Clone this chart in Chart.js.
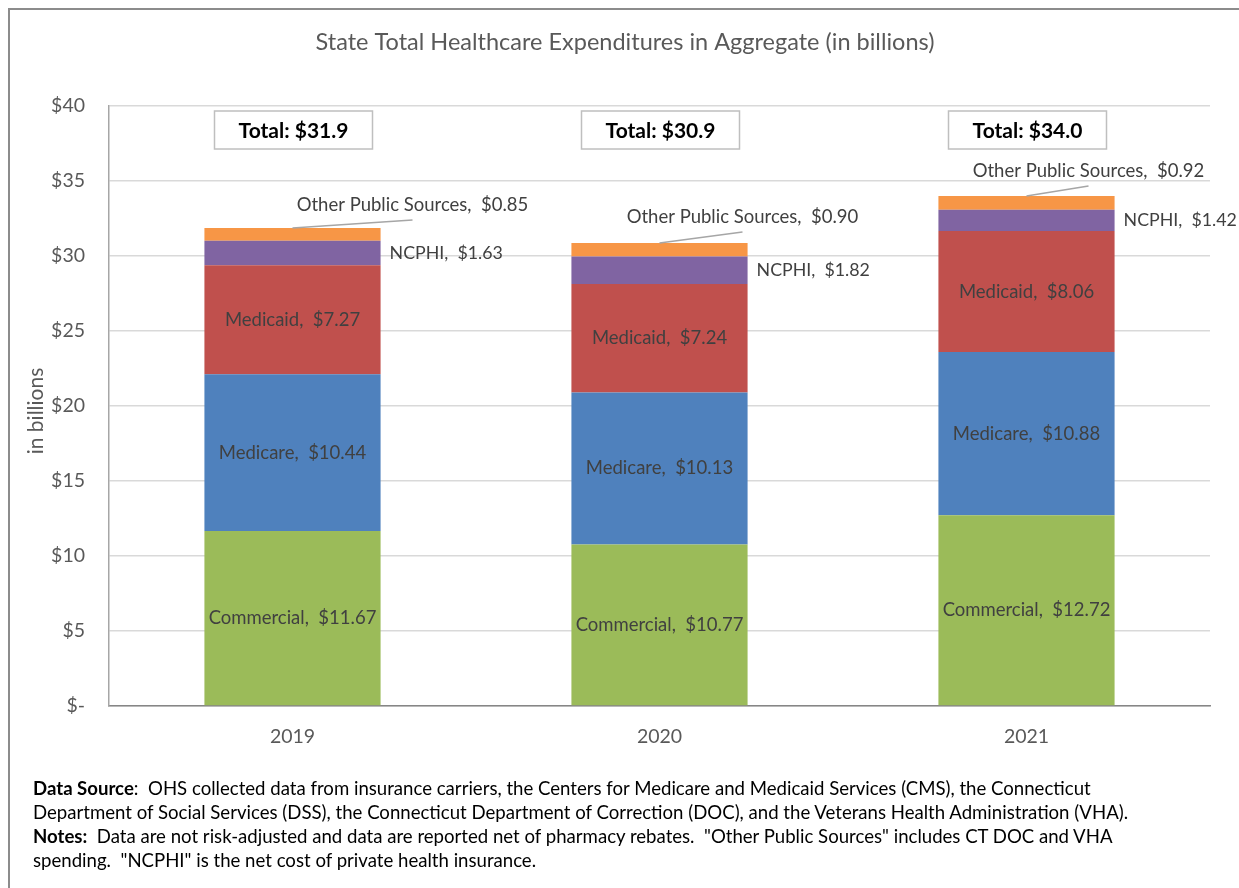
<!DOCTYPE html>
<html>
<head>
<meta charset="utf-8">
<script src="https://cdn.jsdelivr.net/npm/chart.js@4.4.1/dist/chart.umd.min.js"></script>
<style>
  html, body { margin: 0; padding: 0; background: #fff; overflow: hidden; }
  #frame { position: absolute; left: 8px; top: 8px; width: 1400px; height: 1000px; border: 2px solid #8c8c8c; box-sizing: border-box; }
  #chart { position: absolute; left: 0; top: 0; }
  #notes { position: absolute; left: 33px; top: 776px; font-family: Lato, sans-serif; font-size: 18.6px; line-height: 24px; color: #000; white-space: nowrap; }
</style>
</head>
<body>
<div id="frame"></div>
<canvas id="chart" width="1239" height="888"></canvas>
<div id="notes">
  <b>Data Source</b>:&nbsp; OHS collected data from insurance carriers, the Centers for Medicare and Medicaid Services (CMS), the Connecticut<br>
  Department of Social Services (DSS), the Connecticut Department of Correction (DOC), and the Veterans Health Administration (VHA).<br>
  <b>Notes:</b>&nbsp; Data are not risk-adjusted and data are reported net of pharmacy rebates.&nbsp; "Other Public Sources" includes CT DOC and VHA<br>
  spending.&nbsp; "NCPHI" is the net cost of private health insurance.
</div>
<script>
// Data (in billions)
const years = ["2019", "2020", "2021"];
const commercial = [11.67, 10.77, 12.72];
const medicare = [10.44, 10.13, 10.88];
const medicaid = [7.27, 7.24, 8.06];
const ncphi = [1.63, 1.82, 1.42];
const otherPublic = [0.85, 0.90, 0.92];
const yTicks = [0, 5, 10, 15, 20, 25, 30, 35, 40];

const FONT = "Lato, sans-serif";
const LABEL_GRAY = "#404040";

// leader-line label offsets for "Other Public Sources" (dx from bar center, dy above bar top)
const otherOffsets = [[120, 23], [83, 26], [62, 25]];

const labelPlugin = {
  id: "labels",
  afterDraw(chart) {
    const c = chart.ctx;
    const area = chart.chartArea;
    c.save();

    // title
    c.fillStyle = "#595959";
    c.font = "23.5px " + FONT;
    c.textAlign = "center";
    c.textBaseline = "middle";
    c.fillText("State Total Healthcare Expenditures in Aggregate (in billions)", 625, 42);

    // y axis title
    c.save();
    c.translate(36, 411);
    c.rotate(-Math.PI / 2);
    c.font = "21px " + FONT;
    c.fillText("in billions", 0, 0);
    c.restore();

    const metas = chart.data.datasets.map((d, i) => chart.getDatasetMeta(i));

    // inside labels
    c.font = "18.5px " + FONT;
    c.fillStyle = LABEL_GRAY;
    [0, 1, 2].forEach(di => {
      const ds = chart.data.datasets[di];
      metas[di].data.forEach((bar, j) => {
        const txt = ds.label + ",  $" + ds.data[j].toFixed(2);
        c.fillText(txt, bar.x, (bar.y + bar.base) / 2);
      });
    });

    // NCPHI labels right of bar
    c.font = "17.8px " + FONT;
    c.textAlign = "left";
    metas[3].data.forEach((bar, j) => {
      const txt = "NCPHI,  $" + ncphi[j].toFixed(2);
      c.fillText(txt, bar.x + bar.width / 2 + 9, (bar.y + bar.base) / 2);
    });

    // Other Public Sources labels with leader lines
    c.font = "18.5px " + FONT;
    c.textAlign = "center";
    metas[4].data.forEach((bar, j) => {
      const lx = bar.x + otherOffsets[j][0];
      const ly = bar.y - otherOffsets[j][1];
      c.fillStyle = LABEL_GRAY;
      c.fillText("Other Public Sources,  $" + otherPublic[j].toFixed(2), lx, ly);
      c.strokeStyle = "#a6a6a6";
      c.lineWidth = 1.5;
      c.beginPath();
      c.moveTo(bar.x, bar.y);
      c.lineTo(lx, ly + 15);
      c.stroke();
    });

    // Total boxes
    metas[0].data.forEach((bar, j) => {
      const total = commercial[j] + medicare[j] + medicaid[j] + ncphi[j] + otherPublic[j];
      const w = 158, h = 38;
      const bx = bar.x - w / 2 + 1, by = area.top + 5;
      c.fillStyle = "#fff";
      c.fillRect(bx, by, w, h);
      c.strokeStyle = "#bfbfbf";
      c.lineWidth = 1.5;
      c.strokeRect(bx, by, w, h);
      c.fillStyle = "#000";
      c.font = "bold 21px " + FONT;
      c.fillText("Total: $" + total.toFixed(1), bx + w / 2, by + h / 2 + 1);
    });

    c.restore();
  }
};

new Chart(document.getElementById("chart"), {
  type: "bar",
  data: {
    labels: years,
    datasets: [
      { label: "Commercial", data: commercial, backgroundColor: "#9BBB59" },
      { label: "Medicare", data: medicare, backgroundColor: "#4F81BD" },
      { label: "Medicaid", data: medicaid, backgroundColor: "#C0504D" },
      { label: "NCPHI", data: ncphi, backgroundColor: "#8064A2" },
      { label: "Other Public Sources", data: otherPublic, backgroundColor: "#F79646" },
    ],
  },
  options: {
    responsive: false,
    animation: false,
    devicePixelRatio: 1,
    layout: { padding: { left: 0, top: 106, right: 29, bottom: 132 } },
    datasets: { bar: { categoryPercentage: 1, barPercentage: 0.48 } },
    plugins: { legend: { display: false }, tooltip: { enabled: false } },
    scales: {
      x: {
        stacked: true,
        grid: { display: false, drawTicks: false },
        border: { color: "#868686", width: 1.5 },
        ticks: { color: "#595959", font: { family: FONT, size: 19.5 }, padding: 19 },
        afterFit: s => { s.height = 50; },
      },
      y: {
        stacked: true,
        min: 0,
        max: 40,
        afterBuildTicks: s => { s.ticks = yTicks.map(v => ({ value: v })); },
        grid: { color: "#d9d9d9", lineWidth: 1.5, drawTicks: false },
        border: { color: "#a6a6a6", width: 1.5 },
        ticks: {
          color: "#595959",
          font: { family: FONT, size: 19.5 },
          padding: 24,
          callback: v => (v === 0 ? "$-" : "$" + v),
        },
        afterFit: s => { s.width = 109; },
      },
    },
  },
  plugins: [labelPlugin],
});
</script>
</body>
</html>
